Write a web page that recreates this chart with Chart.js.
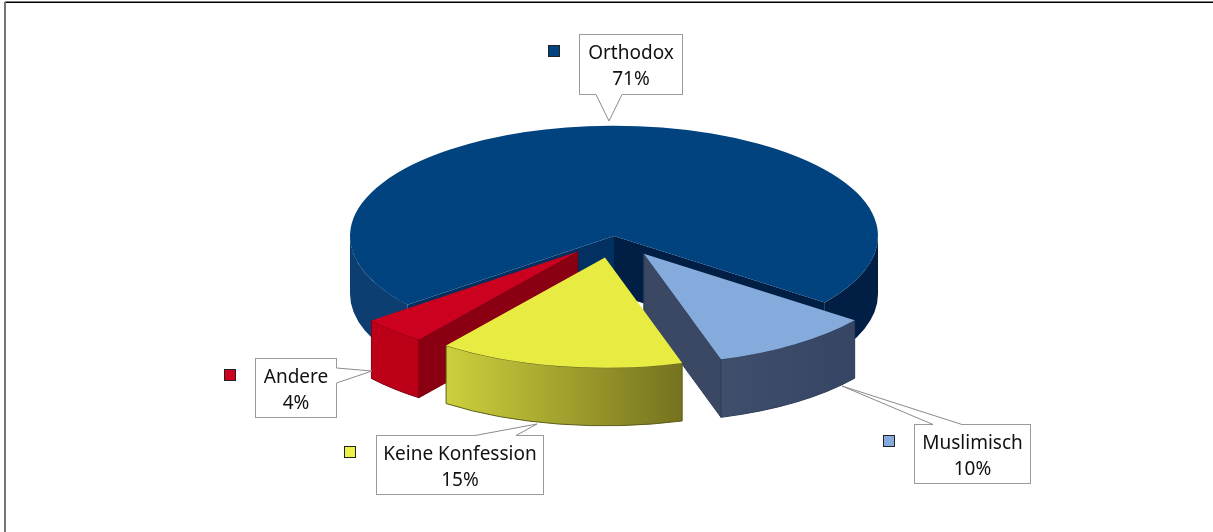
<!DOCTYPE html>
<html>
<head>
<meta charset="utf-8">
<title>Konfessionen</title>
<script src="https://cdn.jsdelivr.net/npm/chart.js@4"></script>
<style>
    html, body { margin: 0; padding: 0; background: #fff; }
    canvas { display: block; }
</style>
</head>
<body>
<canvas id="myChart" width="1213" height="532"></canvas>
<script>
// DATA
const categories = ['Orthodox', 'Muslimisch', 'Keine Konfession', 'Andere'];
const values = [71, 10, 15, 4];

// top faces and side walls of each slice
const topColors = ['#01437f', '#85abdc', '#e8ec42', '#cc001f'];
const rimColors = [['#0c3e72', '#011f45'], ['#3e4e6b', '#374564'], ['#cdd03c', '#75721f'], ['#bb0018', '#bb0018']];
const wallColors = [['#023060', '#011f45'], ['#3a4863', '#3a4863'], ['#000', '#000'], ['#8a0012', '#8a0012']];
const edgeColors = ['rgba(0,0,0,0)', '#2f3c56', '#5d5c1c', '#7d0010'];
const swatchColors = ['#01437f', '#85abdc', '#eef04a', '#cf0020'];

// callouts, one per category: [x, y, w, h], legend square [x, y], pointer polygon
const boxes = [[579.5, 34.5, 103, 60], [914.5, 424.5, 116, 59], [376.5, 435.5, 167, 59], [255.5, 358.5, 81, 59]];
const squares = [[548, 45], [883, 435], [344, 446], [224, 369]];
const pointers = [
    [[596, 94.5], [609, 121], [622, 94.5]],
    [[933, 424.5], [842, 386], [962, 424.5]],
    [[475, 435.5], [537, 424], [516, 435.5]],
    [[336.5, 368], [372, 371], [336.5, 383]]
];

// pie view
const PIE_CENTER_Y = 236;
const TILT = 0.418;
const DEPTH = 58;
const EXPLODE = 52;
const RADIUS = 264;
const START_ROTATION = 231.4;
const paintOrder = [0, 1, 3, 2];

function explodeOffset(arc, i) {
    if (i === 0) return { x: 0, y: 0 };
    const mid = (arc.startAngle + arc.endAngle) / 2;
    return { x: Math.cos(mid) * EXPLODE, y: Math.sin(mid) * EXPLODE * TILT };
}

function drawRim(ctx, cx, cy, from, to, fill, edge) {
    ctx.beginPath();
    ctx.ellipse(cx, cy, RADIUS, RADIUS * TILT, 0, from, to);
    ctx.ellipse(cx, cy + DEPTH, RADIUS, RADIUS * TILT, 0, to, from, true);
    ctx.closePath();
    ctx.fillStyle = fill;
    ctx.fill();
    ctx.strokeStyle = edge;
    ctx.lineWidth = 1;
    ctx.stroke();
}

function drawWall(ctx, cx, cy, angle, fill, edge) {
    const ex = cx + Math.cos(angle) * RADIUS;
    const ey = cy + Math.sin(angle) * RADIUS * TILT;
    ctx.beginPath();
    ctx.moveTo(cx, cy);
    ctx.lineTo(ex, ey);
    ctx.lineTo(ex, ey + DEPTH);
    ctx.lineTo(cx, cy + DEPTH);
    ctx.closePath();
    ctx.fillStyle = fill;
    ctx.fill();
    ctx.strokeStyle = edge;
    ctx.lineWidth = 1;
    ctx.stroke();
}

// Walls first, then the tops squashed into ellipses
const pie3d = {
    id: 'pie3d',
    beforeDatasetDraw(chart, args) {
        const ctx = chart.ctx;
        const arcs = chart.getDatasetMeta(args.index).data;

        paintOrder.forEach(function (i) {
            const arc = arcs[i];
            const off = explodeOffset(arc, i);
            const cx = arc.x + off.x;
            const cy = PIE_CENTER_Y + off.y;
            const start = arc.startAngle;
            const end = arc.endAngle;

            // radial walls facing the viewer
            if (Math.cos(start) < 0) drawWall(ctx, cx, cy, start, wallColors[i][0], edgeColors[i]);
            if (Math.cos(end) > 0) drawWall(ctx, cx, cy, end, wallColors[i][1], edgeColors[i]);

            // outer rim, only the front half of the circle shows
            if (i === 0) {
                drawRim(ctx, cx, cy, start, Math.PI, rimColors[0][0], edgeColors[0]);
                drawRim(ctx, cx, cy, Math.PI * 2, end, rimColors[0][1], edgeColors[0]);
            } else {
                const x0 = cx + Math.cos(end) * RADIUS;
                const x1 = cx + Math.cos(start) * RADIUS;
                const grad = ctx.createLinearGradient(x0, 0, x1, 0);
                grad.addColorStop(0, rimColors[i][0]);
                grad.addColorStop(1, rimColors[i][1]);
                drawRim(ctx, cx, cy, start, end, grad, edgeColors[i]);
            }
        });

        paintOrder.forEach(function (i) {
            const arc = arcs[i];
            const off = explodeOffset(arc, i);
            ctx.save();
            ctx.translate(off.x, PIE_CENTER_Y + off.y);
            ctx.scale(1, TILT);
            ctx.translate(0, -arc.y);
            arc.draw(ctx);
            ctx.restore();
        });
        return false;
    },
    afterDraw(chart) {
        const ctx = chart.ctx;

        // page frame
        ctx.fillStyle = '#000';
        ctx.fillRect(5, 1.5, 1208, 1.5);
        ctx.fillStyle = '#777';
        ctx.fillRect(4, 2, 2, 530);

        categories.forEach(function (name, i) {
            const b = boxes[i];
            const p = pointers[i];

            ctx.fillStyle = '#fff';
            ctx.strokeStyle = '#9a9a9a';
            ctx.lineWidth = 1;
            ctx.fillRect(b[0], b[1], b[2], b[3]);
            ctx.strokeRect(b[0], b[1], b[2], b[3]);

            // pointer opens into the box
            ctx.beginPath();
            ctx.moveTo(p[0][0], p[0][1]);
            ctx.lineTo(p[2][0], p[2][1]);
            ctx.strokeStyle = '#fff';
            ctx.lineWidth = 2;
            ctx.stroke();

            ctx.beginPath();
            ctx.moveTo(p[0][0], p[0][1]);
            ctx.lineTo(p[1][0], p[1][1]);
            ctx.lineTo(p[2][0], p[2][1]);
            ctx.strokeStyle = '#8a8a8a';
            ctx.lineWidth = 1;
            ctx.stroke();

            // legend square
            ctx.fillStyle = swatchColors[i];
            ctx.fillRect(squares[i][0], squares[i][1], 12, 12);
            ctx.strokeStyle = '#222';
            ctx.strokeRect(squares[i][0] + 0.5, squares[i][1] + 0.5, 11, 11);

            ctx.fillStyle = '#111';
            ctx.font = '19px "Noto Sans"';
            ctx.textAlign = 'center';
            ctx.textBaseline = 'alphabetic';
            ctx.fillText(name, b[0] + b[2] / 2, b[1] + 24);
            ctx.fillText(values[i] + '%', b[0] + b[2] / 2, b[1] + 50);
        });
    }
};

var config = {
    type: 'pie',
    data: {
        labels: categories,
        datasets: [{
            data: values,
            backgroundColor: topColors,
            borderWidth: 0,
            radius: RADIUS
        }]
    },
    options: {
        responsive: false,
        animation: false,
        rotation: START_ROTATION,
        layout: { padding: { left: 15 } },
        plugins: {
            legend: { display: false },
            tooltip: { enabled: false }
        }
    },
    plugins: [pie3d]
};

var myChart = new Chart(document.getElementById('myChart'), config);
</script>
</body>
</html>
